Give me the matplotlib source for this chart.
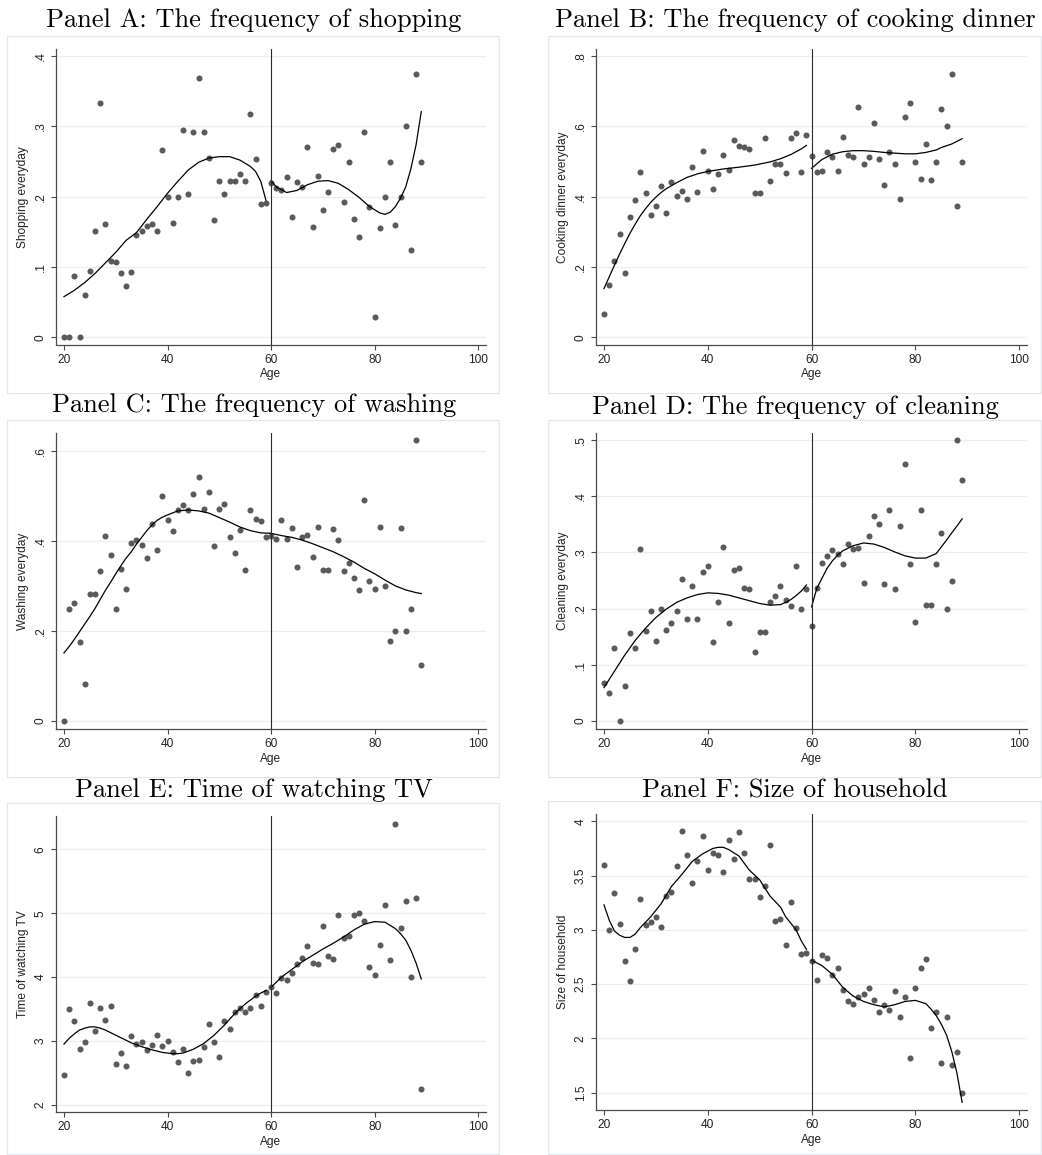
import numpy as np
import matplotlib
matplotlib.use("Agg")
import matplotlib.pyplot as plt
from matplotlib.patches import Rectangle

# ---------------------------------------------------------------- data
ages = list(range(20, 90))

shopping = [0, 0, .087, 0, .061, .094, .152, .333, .161, .109,
            .107, .092, .073, .093, .146, .152, .159, .161, .152, .266,
            .200, .162, .200, .295, .204, .292, .369, .292, .255, .167,
            .223, .204, .222, .222, .233, .223, .317, .253, .189, .191,
            .219, .213, .209, .228, .171, .221, .214, .271, .157, .230,
            .181, .207, .268, .273, .192, .249, .168, .143, .292, .186,
            .029, .156, .200, .249, .160, .200, .300, .124, .375, .250]

cooking = [.067, .149, .218, .295, .183, .343, .391, .471, .410, .348,
           .374, .431, .353, .442, .403, .417, .393, .485, .413, .531,
           .474, .423, .464, .520, .475, .562, .543, .540, .537, .411,
           .412, .567, .444, .494, .494, .468, .568, .581, .471, .575,
           .516, .471, .474, .527, .512, .473, .569, .520, .514, .654,
           .494, .513, .609, .506, .434, .527, .493, .395, .627, .666,
           .500, .451, .551, .448, .500, .650, .600, .750, .374, .500]

washing = [0, .249, .261, .176, .081, .281, .282, .333, .410, .369,
           .249, .338, .294, .395, .402, .391, .361, .437, .380, .500,
           .446, .423, .469, .479, .469, .505, .543, .472, .509, .388,
           .472, .482, .408, .374, .425, .336, .469, .449, .444, .408,
           .410, .404, .446, .405, .428, .341, .408, .414, .365, .432,
           .336, .336, .426, .402, .333, .351, .318, .291, .492, .310,
           .294, .432, .300, .178, .200, .428, .200, .249, .624, .124]

cleaning = [.067, .050, .130, 0, .061, .156, .130, .306, .160, .196,
            .143, .199, .162, .175, .195, .253, .181, .241, .181, .265,
            .276, .141, .212, .310, .174, .269, .272, .236, .234, .122,
            .158, .159, .212, .222, .241, .215, .205, .275, .200, .234,
            .169, .236, .281, .293, .304, .298, .279, .315, .306, .308,
            .245, .329, .365, .351, .243, .375, .235, .347, .458, .279,
            .176, .375, .207, .207, .279, .334, .199, .250, .500, .429]

tv_time = [2.47, 3.50, 3.31, 2.88, 2.98, 3.59, 3.15, 3.52, 3.33, 3.55,
           2.64, 2.81, 2.60, 3.07, 2.95, 2.98, 2.86, 2.93, 3.09, 2.92,
           3.00, 2.83, 2.67, 2.88, 2.49, 2.69, 2.70, 2.91, 3.27, 2.98,
           2.75, 3.32, 3.18, 3.46, 3.52, 3.45, 3.52, 3.72, 3.54, 3.77,
           3.85, 3.75, 3.99, 3.95, 4.06, 4.20, 4.30, 4.48, 4.22, 4.20,
           4.80, 4.33, 4.28, 4.97, 4.62, 4.65, 4.97, 5.00, 4.88, 4.16,
           4.03, 4.51, 5.13, 4.27, 6.40, 4.77, 5.20, 4.00, 5.24, 2.25]

household = [3.60, 3.00, 3.34, 3.05, 2.71, 2.53, 2.82, 3.28, 3.04, 3.07,
             3.12, 3.03, 3.31, 3.35, 3.59, 3.91, 3.69, 3.43, 3.63, 3.86,
             3.55, 3.71, 3.69, 3.53, 3.83, 3.65, 3.90, 3.71, 3.47, 3.47,
             3.30, 3.40, 3.78, 3.08, 3.10, 2.86, 3.26, 3.02, 2.78, 2.79,
             2.71, 2.54, 2.77, 2.74, 2.58, 2.65, 2.45, 2.34, 2.32, 2.38,
             2.41, 2.46, 2.35, 2.24, 2.31, 2.26, 2.44, 2.20, 2.38, 1.82,
             2.46, 2.65, 2.73, 2.10, 2.24, 1.77, 2.20, 1.75, 1.87, 1.50]

# fitted curves, below and above the age-60 cutoff
fit_a_lo_age = [20, 22, 24, 26, 28, 30, 32, 34, 36, 38, 40, 42, 44, 46, 48, 50, 52, 54, 56, 57, 58, 59]
fit_a_lo = [.058, .067, .078, .091, .106, .121, .138, .149, .168, .186, .205, .222, .238, .249, .255,
            .257, .257, .252, .243, .236, .222, .195]
fit_a_hi_age = [60, 61, 63, 65, 67, 69, 71, 73, 75, 77, 79, 81, 82, 83, 84, 85, 86, 87, 88, 89]
fit_a_hi = [.223, .214, .206, .209, .217, .222, .223, .219, .210, .199, .186, .177, .175, .178,
            .186, .198, .214, .240, .274, .321]

fit_b_lo_age = [20, 21, 22, 23, 24, 25, 26, 27, 28, 29, 30, 31, 32, 34, 36, 38, 40, 43, 46, 49, 52, 54, 56, 58, 59]
fit_b_lo = [.139, .172, .205, .237, .267, .296, .322, .346, .366, .384, .399, .412, .423, .440, .455,
            .465, .472, .479, .484, .490, .499, .508, .520, .536, .546]
fit_b_hi_age = [60, 62, 64, 66, 68, 70, 72, 74, 76, 78, 80, 82, 84, 85, 87, 89]
fit_b_hi = [.481, .506, .521, .528, .531, .531, .529, .526, .524, .522, .522, .526, .533, .540, .550, .565]

fit_c_lo_age = [20, 21, 22, 23, 24, 25, 26, 27, 28, 29, 30, 31, 32, 33, 34, 35, 36, 37, 38, 39, 40,
                42, 44, 46, 48, 50, 52, 54, 56, 58, 60]
fit_c_lo = [.151, .165, .181, .198, .215, .232, .250, .270, .290, .308, .327, .345, .362, .376, .393,
            .408, .423, .436, .446, .453, .458, .467, .469, .467, .462, .452, .442, .431, .423, .418, .417]
fit_c_hi_age = [60, 62, 64, 66, 68, 70, 72, 74, 76, 78, 80, 82, 84, 86, 88, 89]
fit_c_hi = [.417, .412, .408, .402, .394, .385, .376, .365, .353, .339, .327, .313, .300, .291, .285, .283]

fit_d_lo_age = [20, 22, 24, 26, 28, 30, 32, 34, 36, 38, 40, 42, 44, 46, 48, 50, 52, 54, 55, 56, 57, 58, 59]
fit_d_lo = [.059, .088, .117, .143, .165, .184, .199, .211, .219, .225, .228, .227, .224, .219, .214,
            .209, .206, .207, .211, .216, .223, .231, .242]
fit_d_hi_age = [60, 61, 62, 63, 64, 65, 66, 68, 70, 72, 74, 76, 78, 80, 82, 84, 85, 86, 87, 88, 89]
fit_d_hi = [.203, .236, .254, .272, .285, .295, .303, .312, .317, .315, .309, .301, .294, .290, .290,
            .298, .310, .322, .335, .347, .360]

fit_e_lo_age = [20, 21, 22, 23, 24, 25, 26, 27, 28, 29, 30, 31, 32, 33, 35, 37, 39, 41, 42, 43, 45, 47,
                49, 51, 53, 55, 56, 57, 58, 59]
fit_e_lo = [2.95, 3.04, 3.11, 3.17, 3.20, 3.22, 3.22, 3.20, 3.17, 3.13, 3.09, 3.05, 3.01, 2.97, 2.91,
            2.86, 2.82, 2.80, 2.80, 2.81, 2.87, 2.96, 3.09, 3.25, 3.43, 3.58, 3.64, 3.70, 3.75, 3.79]
fit_e_hi_age = [60, 62, 64, 66, 68, 70, 72, 74, 76, 78, 80, 82, 84, 85, 86, 87, 88, 89]
fit_e_hi = [3.84, 4.00, 4.12, 4.24, 4.34, 4.44, 4.53, 4.63, 4.74, 4.83, 4.87, 4.86, 4.76, 4.68, 4.58,
            4.42, 4.22, 3.97]

fit_f_lo_age = [20, 21, 22, 23, 24, 25, 26, 27, 29, 31, 33, 35, 37, 39, 41, 42, 43, 44, 46, 48, 50, 52,
                54, 55, 57, 58, 59]
fit_f_lo = [3.23, 3.09, 2.99, 2.95, 2.93, 2.93, 2.96, 3.02, 3.12, 3.24, 3.40, 3.51, 3.63, 3.70, 3.75,
            3.76, 3.76, 3.74, 3.68, 3.55, 3.46, 3.31, 3.21, 3.12, 3.00, 2.90, 2.82]
fit_f_hi_age = [60, 62, 64, 66, 68, 70, 72, 74, 76, 78, 80, 82, 83, 84, 85, 86, 87, 88, 89]
fit_f_hi = [2.72, 2.67, 2.59, 2.47, 2.39, 2.34, 2.31, 2.29, 2.31, 2.34, 2.35, 2.32, 2.27, 2.21, 2.13,
            2.03, 1.88, 1.68, 1.41]

x_ticks = [20, 40, 60, 80, 100]

panels = [
    dict(title="Panel A: The frequency of shopping", ylabel="Shopping everyday", y=shopping,
         fits=[(fit_a_lo_age, fit_a_lo), (fit_a_hi_age, fit_a_hi)],
         yticks=[0, .1, .2, .3, .4], ylabels=["0", ".1", ".2", ".3", ".4"], ylim=(-0.01, 0.41)),
    dict(title="Panel B: The frequency of cooking dinner", ylabel="Cooking dinner everyday", y=cooking,
         fits=[(fit_b_lo_age, fit_b_lo), (fit_b_hi_age, fit_b_hi)],
         yticks=[0, .2, .4, .6, .8], ylabels=["0", ".2", ".4", ".6", ".8"], ylim=(-0.02, 0.82)),
    dict(title="Panel C: The frequency of washing", ylabel="Washing everyday", y=washing,
         fits=[(fit_c_lo_age, fit_c_lo), (fit_c_hi_age, fit_c_hi)],
         yticks=[0, .2, .4, .6], ylabels=["0", ".2", ".4", ".6"], ylim=(-0.0185, 0.641)),
    dict(title="Panel D: The frequency of cleaning", ylabel="Cleaning everyday", y=cleaning,
         fits=[(fit_d_lo_age, fit_d_lo), (fit_d_hi_age, fit_d_hi)],
         yticks=[0, .1, .2, .3, .4, .5], ylabels=["0", ".1", ".2", ".3", ".4", ".5"], ylim=(-0.0148, 0.5136)),
    dict(title="Panel E: Time of watching TV", ylabel="Time of watching TV", y=tv_time,
         fits=[(fit_e_lo_age, fit_e_lo), (fit_e_hi_age, fit_e_hi)],
         yticks=[2, 3, 4, 5, 6], ylabels=["2", "3", "4", "5", "6"], ylim=(1.886, 6.525)),
    dict(title="Panel F: Size of household", ylabel="Size of household", y=household,
         fits=[(fit_f_lo_age, fit_f_lo), (fit_f_hi_age, fit_f_hi)],
         yticks=[1.5, 2, 2.5, 3, 3.5, 4], ylabels=["1.5", "2", "2.5", "3", "3.5", "4"], ylim=(1.34, 4.067)),
]

# ---------------------------------------------------------------- layout (pixels)
W, H = 1042, 1155
SANS = "Liberation Sans"
SERIF = "cmr10"
FS = 8.6

# axes box: left, top, right, bottom in pixel coordinates
axes_px = [
    (56, 49, 486, 344.5), (596, 49, 1027, 344.5),
    (56, 432.7, 486, 729), (596, 432.7, 1027, 729),
    (56, 816, 486, 1112), (596, 814, 1027, 1110),
]
# light outer frames around each graph
frames_px = [
    (7, 36, 499, 393), (548, 36, 1041, 393),
    (7, 420, 499, 777), (548, 420, 1041, 777),
    (7, 803, 499, 1153.5), (548, 801, 1041, 1153.5),
]
title_px = [(254, 27.5), (795, 27.5), (254, 412), (795, 414), (254, 797), (795, 798)]

fig = plt.figure(figsize=(W / 100, H / 100), dpi=100)
fig.patch.set_facecolor("white")

for (fx0, fy0, fx1, fy1) in frames_px:
    fig.patches.append(Rectangle((fx0 / W, 1 - fy1 / H), (fx1 - fx0) / W, (fy1 - fy0) / H,
                                 transform=fig.transFigure, fill=False,
                                 edgecolor="#e2e9ec", linewidth=0.9, zorder=0))

AXIS_COL = "#4a4a4a"
for p, (l, t, r, b), (tx, ty) in zip(panels, axes_px, title_px):
    ax = fig.add_axes([l / W, 1 - b / H, (r - l) / W, (b - t) / H])
    ax.set_facecolor("white")
    ax.set_xlim(18.46, 101.5)
    ax.set_ylim(*p["ylim"])

    for yv in p["yticks"]:
        ax.axhline(yv, color="#e8eff1", linewidth=0.9, zorder=0)

    ax.scatter(ages, p["y"], s=19, color="#5a5a5a", linewidths=0, zorder=2)
    for fx, fy in p["fits"]:
        ax.plot(fx, fy, color="black", linewidth=0.9, zorder=3)
    ax.axvline(60, color="#2a2a2a", linewidth=0.8, zorder=4)

    for side in ("top", "right"):
        ax.spines[side].set_visible(False)
    for side in ("left", "bottom"):
        ax.spines[side].set_color(AXIS_COL)
        ax.spines[side].set_linewidth(0.9)

    ax.set_xticks(x_ticks)
    ax.set_xticklabels([str(v) for v in x_ticks], fontfamily=SANS, fontsize=FS)
    ax.set_yticks(p["yticks"])
    ax.set_yticklabels(p["ylabels"], fontfamily=SANS, fontsize=FS, rotation=90, va="center")
    ax.tick_params(axis="both", direction="out", length=3.6, width=0.8, color=AXIS_COL,
                   labelcolor="#222222", pad=3)
    ax.set_xlabel("Age", fontfamily=SANS, fontsize=FS, labelpad=2, color="#222222")
    ax.set_ylabel(p["ylabel"], fontfamily=SANS, fontsize=FS, labelpad=4, color="#222222")

    fig.text(tx / W, 1 - ty / H, p["title"], ha="center", va="baseline",
             fontfamily=SERIF, fontsize=19, color="black")

fig.savefig("out.png", dpi=100, facecolor="white")
